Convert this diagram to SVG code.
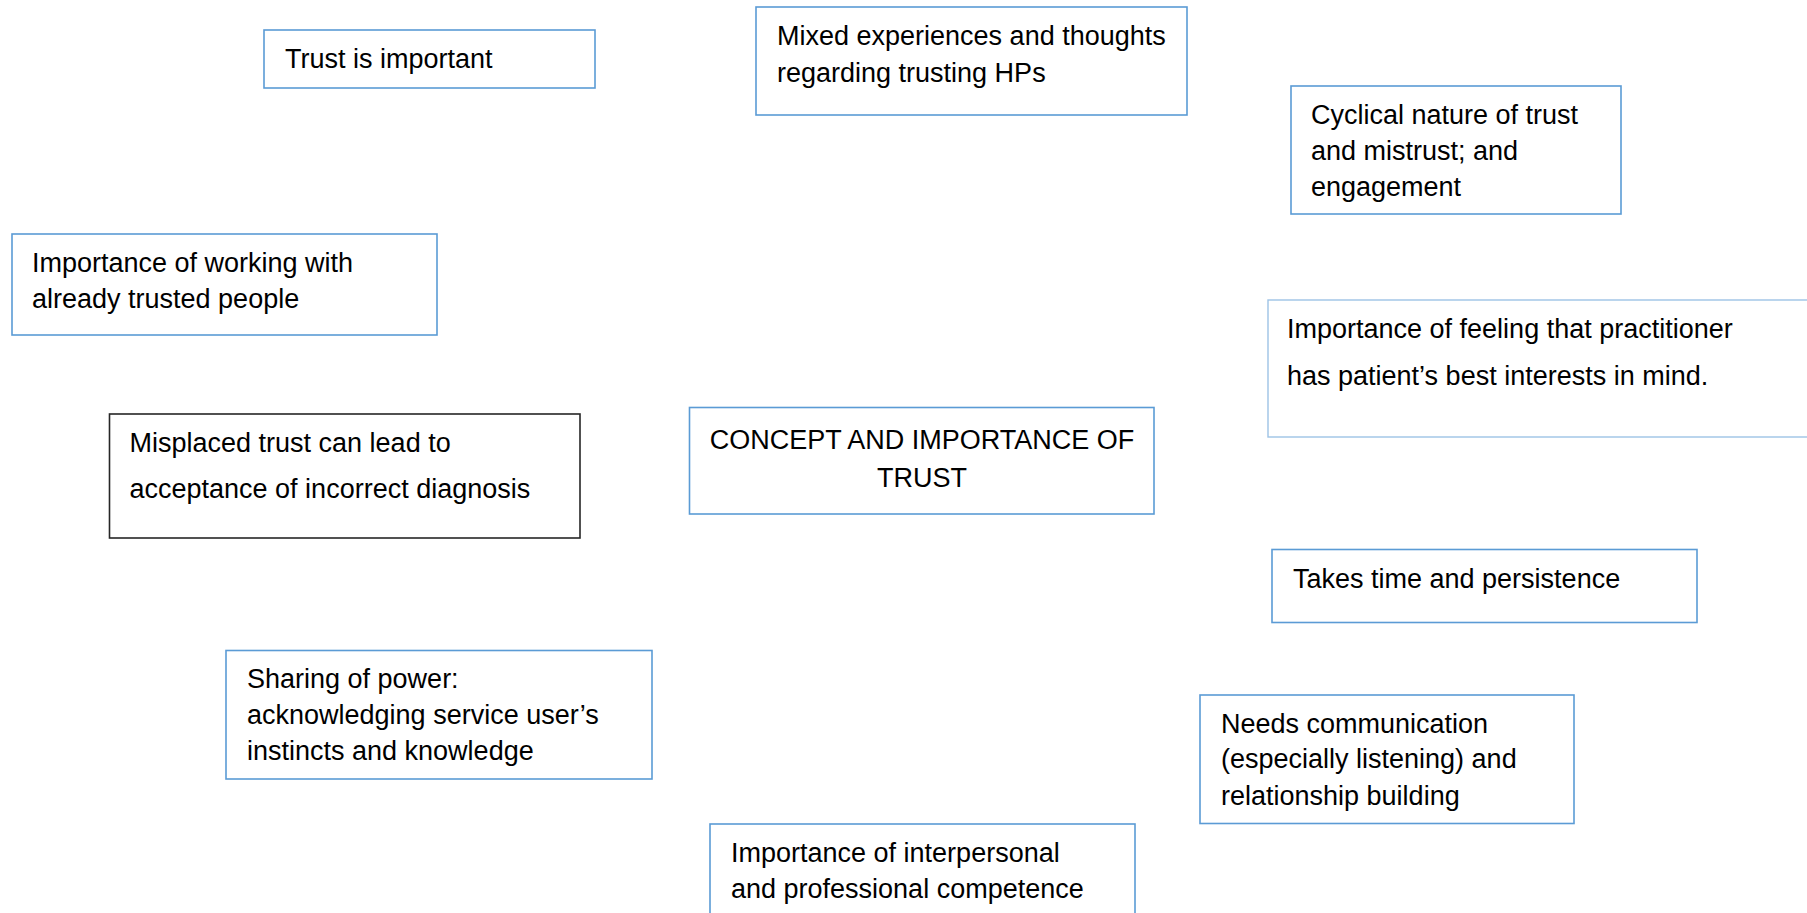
<svg xmlns="http://www.w3.org/2000/svg" width="1807" height="913" viewBox="0 0 1807 913">
<style>
.box{fill:#fff;stroke:#5B9BD5;stroke-width:1.6}
.light{fill:#fff;stroke:#9DC3E6;stroke-width:1.4}
.dark{fill:#fff;stroke:#262626;stroke-width:1.6}
text{font-family:"Liberation Sans",Arial,sans-serif;font-size:27px;fill:#000}
.c{text-anchor:middle}
</style>
<rect width="1807" height="913" fill="#fff"/>
<g id="connectors"></g>
<g id="n-trust-important">
<rect class="box" x="264" y="30" width="331" height="58"/>
<text x="285" y="68">Trust is important</text>
</g>
<g id="n-mixed">
<rect class="box" x="756" y="7" width="431" height="108"/>
<text x="777" y="45">Mixed experiences and thoughts</text>
<text x="777" y="82">regarding trusting HPs</text>
</g>
<g id="n-cyclical">
<rect class="box" x="1291" y="86" width="330" height="128"/>
<text x="1311" y="124">Cyclical nature of trust</text>
<text x="1311" y="160">and mistrust; and</text>
<text x="1311" y="196">engagement</text>
</g>
<g id="n-working">
<rect class="box" x="12" y="234" width="425" height="101"/>
<text x="32" y="272">Importance of working with</text>
<text x="32" y="307.5">already trusted people</text>
</g>
<g id="n-practitioner">
<rect class="light" x="1268" y="300" width="540" height="137"/>
<text x="1287" y="338">Importance of feeling that practitioner</text>
<text x="1287" y="385">has patient’s best interests in mind.</text>
</g>
<g id="n-misplaced">
<rect class="dark" x="109.5" y="414" width="470.5" height="124"/>
<text x="129.5" y="451.5">Misplaced trust can lead to</text>
<text x="129.5" y="497.5">acceptance of incorrect diagnosis</text>
</g>
<g id="n-concept">
<rect class="box" x="689.5" y="407.5" width="464.5" height="106.5"/>
<text class="c" x="922" y="448.5">CONCEPT AND IMPORTANCE OF</text>
<text class="c" x="922" y="487">TRUST</text>
</g>
<g id="n-takes-time">
<rect class="box" x="1272" y="549.5" width="425" height="73"/>
<text x="1293" y="588">Takes time and persistence</text>
</g>
<g id="n-sharing">
<rect class="box" x="226" y="650.5" width="426" height="128.5"/>
<text x="247" y="688">Sharing of power:</text>
<text x="247" y="723.5">acknowledging service user’s</text>
<text x="247" y="759.5">instincts and knowledge</text>
</g>
<g id="n-needs">
<rect class="box" x="1200" y="695" width="374" height="128.5"/>
<text x="1221" y="732.5">Needs communication</text>
<text x="1221" y="768">(especially listening) and</text>
<text x="1221" y="804.5">relationship building</text>
</g>
<g id="n-interpersonal">
<rect class="box" x="710" y="824" width="425" height="110"/>
<text x="731" y="862">Importance of interpersonal</text>
<text x="731" y="897.5">and professional competence</text>
</g>
</svg>
